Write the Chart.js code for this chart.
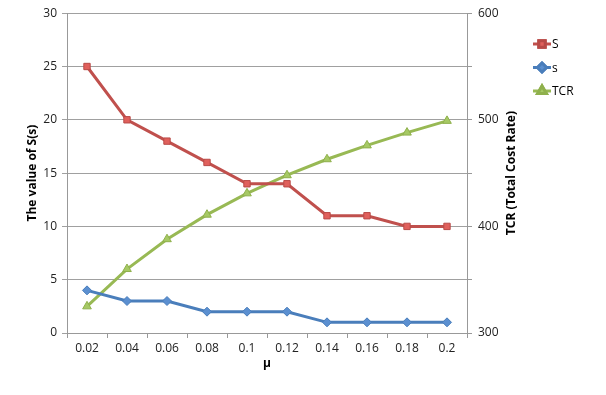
<!DOCTYPE html>
<html>
<head>
<meta charset="utf-8">
<script src="https://cdn.jsdelivr.net/npm/chart.js@4"></script>
<style>
  html, body { margin: 0; padding: 0; background: #fff; }
  #wrap { width: 606px; height: 395px; }
</style>
</head>
<body>
<div id="wrap"><canvas id="grafica" width="606" height="395"></canvas></div>
<script>
// datos
const mu = ['0.02', '0.04', '0.06', '0.08', '0.1', '0.12', '0.14', '0.16', '0.18', '0.2'];
const valS = [25, 20, 18, 16, 14, 14, 11, 11, 10, 10];
const vals = [4, 3, 3, 2, 2, 2, 1, 1, 1, 1];
const valTCR = [325, 360, 388, 411, 431, 448, 463, 476, 488, 499];

const fuente = "'Open Sans', 'DejaVu Sans', sans-serif";

// leyenda dibujada a mano: linea + marcador, y titulo del eje derecho (girado hacia arriba)
const extras = {
    id: 'extras',
    afterDraw(chart) {
        const ctx = chart.ctx;
        const items = chart.data.datasets;
        let y = 44;
        items.forEach(ds => {
            const x = 542;
            ctx.save();
            ctx.strokeStyle = ds.borderColor;
            ctx.lineWidth = 3;
            ctx.beginPath();
            ctx.moveTo(x - 9, y);
            ctx.lineTo(x + 9, y);
            ctx.stroke();
            Chart.helpers.drawPoint(ctx, {
                pointStyle: ds.pointStyle,
                radius: ds.pointRadius,
                borderWidth: 1
            }, x, y);
            ctx.fillStyle = ds.pointBackgroundColor;
            ctx.strokeStyle = ds.pointBorderColor;
            ctx.fill();
            ctx.stroke();
            ctx.fillStyle = '#000';
            ctx.font = '12px ' + fuente;
            ctx.textBaseline = 'middle';
            ctx.fillText(ds.label, x + 10, y + 1);
            ctx.restore();
            y += 23.5;
        });

        const area = chart.chartArea;
        ctx.save();
        ctx.translate(512, (area.top + area.bottom) / 2);
        ctx.rotate(-Math.PI / 2);
        ctx.font = 'bold 12px ' + fuente;
        ctx.fillStyle = '#000';
        ctx.textAlign = 'center';
        ctx.textBaseline = 'middle';
        ctx.fillText('TCR (Total Cost Rate)', 0, 0);
        ctx.restore();
    }
};

const ctx = document.getElementById('grafica').getContext('2d');
const grafica = new Chart(ctx, {
    type: 'line',
    data: {
        labels: mu,
        datasets: [{
            label: 'S',
            data: valS,
            yAxisID: 'y',
            borderColor: '#C0504D',
            borderWidth: 3,
            pointStyle: 'rect',
            pointRadius: 4.5,
            pointBackgroundColor: '#E0605C',
            pointBorderColor: '#B84A47',
            pointBorderWidth: 1
        }, {
            label: 's',
            data: vals,
            yAxisID: 'y',
            borderColor: '#4A7EBB',
            borderWidth: 3,
            pointStyle: 'rectRot',
            pointRadius: 4.5,
            pointBackgroundColor: '#5B8FD0',
            pointBorderColor: '#4A7EBB',
            pointBorderWidth: 1
        }, {
            label: 'TCR',
            data: valTCR,
            yAxisID: 'y1',
            borderColor: '#98B954',
            borderWidth: 3,
            pointStyle: 'triangle',
            pointRadius: 5,
            pointBackgroundColor: '#A6C964',
            pointBorderColor: '#8FB04C',
            pointBorderWidth: 1
        }]
    },
    options: {
        responsive: false,
        animation: false,
        layout: { padding: { left: 23, right: 79, top: 12, bottom: 24 } },
        plugins: {
            legend: { display: false },
            tooltip: { enabled: false }
        },
        scales: {
            x: {
                offset: true,
                grid: { offset: true, drawOnChartArea: false, color: '#999', tickLength: 5 },
                border: { color: '#999' },
                ticks: { color: '#222', font: { family: fuente, size: 12 }, padding: 3 },
                title: { display: true, text: 'μ', color: '#000', font: { family: fuente, size: 12, weight: 'bold' }, padding: 0 },
                afterFit(a) { a.height = 38; }
            },
            y: {
                position: 'left',
                min: 0, max: 30,
                ticks: { stepSize: 5, color: '#222', font: { family: fuente, size: 12 }, padding: 5 },
                grid: { color: '#a0a0a0', tickLength: 5 },
                border: { color: '#999' },
                title: { display: true, text: 'The value of S(s)', color: '#000', font: { family: fuente, size: 12, weight: 'bold' }, padding: 2 },
                afterFit(a) { a.width = 44; }
            },
            y1: {
                position: 'right',
                min: 300, max: 600,
                ticks: {
                    stepSize: 50,
                    color: '#222',
                    font: { family: fuente, size: 12 },
                    padding: 6,
                    callback: v => (v % 100 === 0 ? v : '')
                },
                grid: { drawOnChartArea: false, color: '#999', tickLength: 5 },
                border: { color: '#999' },
                afterFit(a) { a.width = 60; }
            }
        }
    },
    plugins: [extras]
});
</script>
</body>
</html>
